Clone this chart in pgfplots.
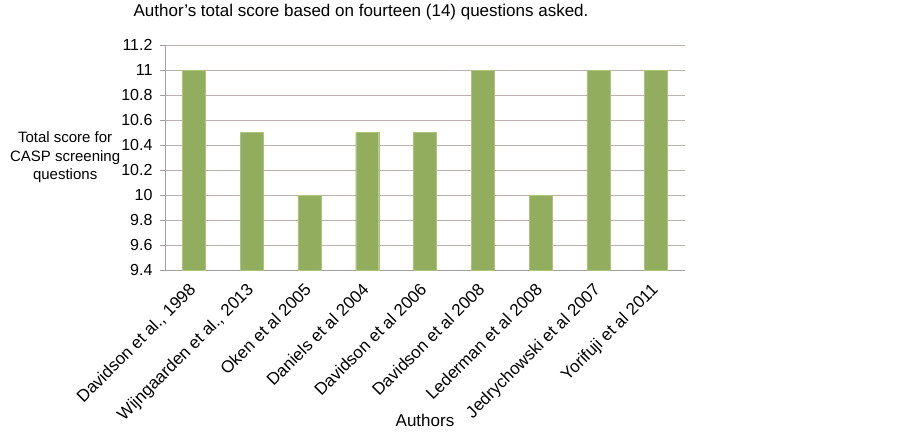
\documentclass[border=0pt]{standalone}
\usepackage{pgfplots}
\pgfplotsset{compat=1.18}
\usepackage{fontspec}
\setmainfont{Liberation Sans}
\definecolor{barfill}{HTML}{93AD5F}
\definecolor{barline}{HTML}{ABC47E}
\definecolor{gridc}{HTML}{BDB1B0}
\definecolor{axc}{HTML}{A0A0A0}
\begin{document}
\begin{tikzpicture}[x=1pt,y=1pt]
\path[use as bounding box] (0,0) rectangle (903,432);
\begin{axis}[
  at={(165pt,162pt)}, anchor=south west, scale only axis,
  width=520pt, height=225pt,
  ymin=9.4, ymax=11.2,
  ytick={9.4,9.6,9.8,10,10.2,10.4,10.6,10.8,11,11.2},
  /pgf/number format/assume math mode=true,
  /pgf/number format/fixed,
  xmin=-0.5, xmax=8.5,
  xtick={0,...,8},
  xticklabels={{Davidson et al., 1998},{Wijngaarden et al., 2013},Oken et al 2005,Daniels et al 2004,Davidson et al 2006,Davidson et al 2008,Lederman et al 2008,Jedrychowski et al 2007,Yorifuji et al 2011},
  axis x line*=bottom, axis y line*=left,
  axis line style={axc, -},
  tick align=outside,
  ytick style={axc},
  major tick length=5pt,
  xtick style={draw=none},
  extra x ticks={-0.5,0.5,1.5,2.5,3.5,4.5,5.5,6.5,7.5,8.5},
  extra x tick labels={},
  extra x tick style={xtick style={axc}, major tick length=5pt},
  ymajorgrids, grid style={gridc, line width=0.9pt},
  yticklabel style={xshift=-4pt, font=\fontsize{16}{18}\selectfont},
  xticklabel style={xshift=-6pt, yshift=-2pt, rotate=45, anchor=north east, font=\fontsize{17}{19}\selectfont},
  title={Author’s total score based on fourteen (14) questions asked.},
  every axis title/.style={at={(axis description cs:0.377,1.147)}, anchor=center, font=\fontsize{17}{19}\selectfont},
  xlabel={Authors},
  every axis x label/.style={at={(axis description cs:0.5,-0.667)}, anchor=center, font=\fontsize{17}{19}\selectfont},
  ylabel={Total score for\\CASP screening\\questions},
  every axis y label/.style={at={(axis description cs:-0.192,0.5)}, anchor=center, align=center, font=\fontsize{15}{18.5}\selectfont},
  ybar, bar width=23pt,
]
\addplot[fill=barfill, draw=barline] coordinates {
  (0,11) (1,10.5) (2,10) (3,10.5) (4,10.5) (5,11) (6,10) (7,11) (8,11)
};
\end{axis}
\end{tikzpicture}
\end{document}
